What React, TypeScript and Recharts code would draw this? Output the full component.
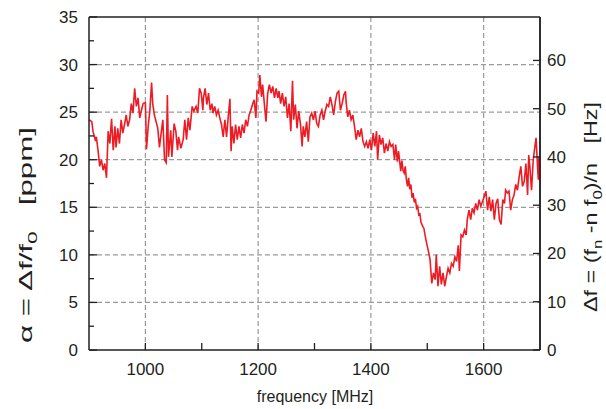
import React from "react";
import {
  LineChart,
  Line,
  XAxis,
  YAxis,
  ReferenceLine,
} from "recharts";

// alpha [ppm], as [frequency MHz, ppm]
const lowBand: [number, number][] = [
  [900, 24.2], [905, 24.0], [907, 23.0], [911, 22.1], [913, 22.4], [916, 21.0], [919, 19.3],
  [922, 20.0], [925, 18.9], [928, 19.6], [931, 18.1], [934, 23.0], [937, 21.7], [940, 24.3],
  [943, 21.0], [946, 23.5], [948, 21.3], [951, 23.3], [954, 21.7], [957, 24.2], [960, 22.8],
  [963, 23.7], [966, 24.7], [969, 23.5], [972, 24.2], [975, 25.9], [978, 24.9], [981, 27.5],
  [984, 25.6], [987, 26.5], [990, 24.4], [993, 25.2], [996, 25.9], [1000, 26.0], [1002, 21.1],
  [1005, 23.5], [1008, 25.2], [1011, 28.1], [1013, 25.9], [1016, 24.7], [1019, 24.0], [1022, 23.3],
  [1025, 21.3], [1028, 22.8], [1031, 24.2], [1034, 20.0], [1037, 19.7], [1039, 26.8], [1041, 20.3],
  [1045, 23.1], [1047, 20.3], [1051, 23.8], [1054, 23.0], [1057, 21.0], [1059, 22.4], [1063, 21.2],
  [1067, 22.1], [1070, 24.2], [1073, 22.1], [1076, 24.4], [1079, 23.1], [1083, 25.6], [1086, 25.1],
  [1090, 25.6], [1093, 24.9], [1096, 27.5], [1099, 27.0], [1102, 25.2],
];

const midBand: [number, number][] = [
  [1103, 26.5], [1106, 27.5], [1109, 25.8], [1112, 27.0], [1115, 25.2], [1118, 25.9], [1120, 24.9],
  [1123, 25.6], [1126, 24.7], [1129, 25.2], [1132, 24.4], [1135, 23.7], [1138, 22.4], [1141, 24.2],
  [1144, 22.4], [1147, 24.5], [1150, 26.4], [1152, 20.9], [1154, 23.5], [1157, 21.7], [1160, 23.7],
  [1163, 22.1], [1166, 23.5], [1169, 22.3], [1172, 23.7], [1175, 22.8], [1178, 24.2], [1181, 23.5],
  [1184, 24.7], [1187, 25.2], [1190, 25.8], [1193, 26.3], [1196, 24.4], [1198, 27.2], [1201, 27.0],
  [1203, 28.9], [1206, 26.6], [1208, 27.9], [1211, 25.9], [1214, 24.0], [1217, 27.0], [1220, 27.9],
  [1223, 27.0], [1226, 27.7], [1229, 26.5], [1232, 27.5], [1235, 26.5], [1237, 27.2], [1240, 25.9],
  [1243, 27.0], [1246, 25.6], [1249, 26.6], [1252, 24.4], [1255, 25.9], [1258, 23.0], [1261, 28.3],
  [1263, 24.2], [1266, 25.8], [1269, 23.3], [1272, 25.1], [1275, 23.8], [1278, 21.4], [1280, 23.5],
  [1283, 22.4], [1286, 24.0], [1289, 21.9], [1292, 24.5],
];

const dropBand: [number, number][] = [
  [1295, 24.9], [1298, 24.2], [1301, 25.1], [1304, 23.8], [1307, 23.5], [1310, 24.7], [1313, 25.2],
  [1316, 24.2], [1319, 25.1], [1322, 25.8], [1325, 25.6], [1328, 26.6], [1331, 25.8], [1334, 24.7],
  [1337, 26.1], [1340, 27.0], [1343, 27.2], [1346, 25.2], [1349, 25.9], [1352, 26.8], [1355, 27.2],
  [1356, 26.1], [1359, 24.5], [1362, 25.2], [1365, 24.2], [1368, 24.7], [1371, 23.5], [1374, 22.1],
  [1377, 23.1], [1380, 22.4], [1383, 23.3], [1386, 21.9], [1389, 21.4], [1392, 21.9], [1395, 21.2],
  [1398, 22.1], [1401, 21.0], [1404, 22.8], [1407, 21.4], [1410, 23.0], [1412, 20.0], [1415, 22.6],
  [1418, 21.6], [1421, 22.3], [1424, 20.7], [1427, 21.7], [1430, 20.9], [1433, 21.9], [1436, 21.4],
  [1439, 21.6], [1442, 20.0], [1444, 21.6], [1447, 19.8], [1449, 20.9], [1451, 19.9], [1453, 18.8],
  [1455, 19.9], [1457, 18.9], [1459, 18.6], [1461, 19.3], [1463, 17.9], [1465, 17.2], [1467, 18.1],
  [1469, 16.9], [1471, 17.4], [1473, 16.0], [1475, 16.5], [1477, 15.5], [1479, 15.9], [1481, 14.9],
  [1483, 15.1], [1485, 14.2], [1487, 14.3], [1489, 13.4],
];

const highBand: [number, number][] = [
  [1492, 13.0], [1494, 12.8], [1496, 12.1], [1499, 11.2], [1502, 10.4], [1505, 9.5], [1508, 7.0],
  [1511, 8.1], [1514, 7.4], [1516, 10.0], [1519, 6.7], [1522, 8.8], [1525, 6.9], [1528, 8.1],
  [1531, 6.7], [1534, 7.7], [1537, 8.6], [1540, 8.1], [1543, 9.1], [1546, 8.8], [1549, 9.8],
  [1552, 9.3], [1555, 11.0], [1557, 8.3], [1560, 12.1], [1563, 11.9], [1566, 12.6], [1569, 12.1],
  [1571, 13.7], [1574, 14.7], [1577, 13.7], [1580, 14.9], [1583, 14.4], [1586, 15.4], [1589, 14.7],
  [1592, 15.8], [1595, 15.1], [1598, 15.6], [1601, 16.1], [1604, 16.7], [1607, 14.7], [1610, 16.1],
  [1613, 14.6], [1616, 15.8], [1619, 13.7], [1622, 15.4], [1625, 15.9], [1628, 13.7], [1631, 13.2],
  [1634, 15.8], [1637, 15.4], [1639, 16.8], [1642, 16.5], [1645, 16.7], [1648, 14.7], [1651, 15.8],
  [1654, 16.3], [1657, 17.4], [1660, 16.8], [1663, 18.2], [1666, 19.3], [1669, 17.2], [1672, 17.7],
  [1675, 19.6], [1678, 16.3], [1680, 20.5], [1682, 19.3], [1685, 16.8], [1688, 20.0], [1691, 21.4],
  [1693, 22.3], [1695, 20.0], [1697, 17.9], [1698, 20.3], [1700, 17.8],
];

const xTicks = [1000, 1100, 1200, 1300, 1400, 1500, 1600];
const xGrid = [1000, 1200, 1400, 1600];
const leftTicks = [0, 2.5, 5, 7.5, 10, 12.5, 15, 17.5, 20, 22.5, 25, 27.5, 30, 32.5, 35];
const leftGrid = [5, 10, 15, 20, 25, 30];
const rightTicks = [0, 10, 20, 30, 40, 50, 60];

const data = [...lowBand, ...midBand, ...dropBand, ...highBand].map(([f, a]) => ({ f, a }));

const FONT = "'Liberation Sans', Arial, Helvetica, sans-serif";
const INK = "#231f20";

const LeftTick = (props: any) => {
  const { x, y, payload } = props;
  const v = payload.value;
  const major = v % 5 === 0;
  return (
    <g>
      <line x1={x} x2={x + (major ? 8 : 5)} y1={y} y2={y} stroke={INK} strokeWidth={1.3} />
      {major && (
        <text x={x - 11} y={y + 6} textAnchor="end" fontSize={17} fontFamily={FONT} fill={INK}>
          {v}
        </text>
      )}
    </g>
  );
};

const RightTick = (props: any) => {
  const { x, y, payload } = props;
  return (
    <g>
      <line x1={x} x2={x - 7} y1={y} y2={y} stroke={INK} strokeWidth={1.3} />
      <text x={x + 7} y={y + 6} textAnchor="start" fontSize={17} fontFamily={FONT} fill={INK}>
        {payload.value}
      </text>
    </g>
  );
};

const BottomTick = (props: any) => {
  const { x, y, payload } = props;
  const v = payload.value;
  return (
    <g>
      <line x1={x} x2={x} y1={y} y2={y - 7} stroke={INK} strokeWidth={1.3} />
      {v % 200 === 0 && (
        <text x={x} y={y + 25} textAnchor="middle" fontSize={17} fontFamily={FONT} fill={INK}>
          {v}
        </text>
      )}
    </g>
  );
};

const renderLeftLabel = () => (
  <text
    x={0}
    y={0}
    transform="translate(24,227) rotate(-90)"
    textAnchor="middle"
    fontSize={18}
    fontFamily={FONT}
    fill={INK}
    textLength={216}
    lengthAdjust="spacingAndGlyphs"
    style={{ whiteSpace: "pre" }}
  >
    α = Δf/f<tspan dy={5} fontSize={13}>0</tspan>
    <tspan dy={-5}>{"   [ppm]"}</tspan>
  </text>
);

const renderRightLabel = () => (
  <text
    x={0}
    y={0}
    transform="translate(589,199) rotate(-90)"
    textAnchor="middle"
    fontSize={18}
    fontFamily={FONT}
    fill={INK}
    textLength={210}
    lengthAdjust="spacingAndGlyphs"
    style={{ whiteSpace: "pre" }}
  >
    {"Δf = (f"}
    <tspan dy={5} fontSize={13}>n</tspan>
    <tspan dy={-5}>{" -n f"}</tspan>
    <tspan dy={5} fontSize={13}>0</tspan>
    <tspan dy={-5}>{")/n   [Hz]"}</tspan>
  </text>
);

const renderXLabel = () => (
  <text x={307} y={394} textAnchor="middle" fontSize={16} fontFamily={FONT} fill={INK}>
    frequency [MHz]
  </text>
);

export default function App() {
  return (
    <div style={{ position: "absolute", left: 8, top: 8, width: 598, height: 401 }}>
      <LineChart
        width={598}
        height={401}
        data={data}
        margin={{ top: 9, right: 0, bottom: 0, left: 0 }}
      >
        <XAxis
          dataKey="f"
          type="number"
          domain={[900, 1700]}
          ticks={xTicks}
          interval={0}
          height={59}
          tickSize={0}
          tickMargin={0}
          tickLine={false}
          tick={<BottomTick />}
          axisLine={{ stroke: INK, strokeWidth: 1.5 }}
          label={renderXLabel}
        />
        <YAxis
          yAxisId="left"
          orientation="left"
          type="number"
          domain={[0, 35]}
          ticks={leftTicks}
          interval={0}
          width={81}
          tickSize={0}
          tickMargin={0}
          tickLine={false}
          tick={<LeftTick />}
          axisLine={{ stroke: INK, strokeWidth: 1.5 }}
          label={renderLeftLabel}
        />
        <YAxis
          yAxisId="right"
          orientation="right"
          type="number"
          domain={[0, 69]}
          allowDataOverflow
          ticks={rightTicks}
          interval={0}
          width={66}
          tickSize={0}
          tickMargin={0}
          tickLine={false}
          tick={<RightTick />}
          axisLine={{ stroke: INK, strokeWidth: 1.5 }}
          label={renderRightLabel}
        />
        {leftGrid.map((v) => (
          <ReferenceLine
            key={"h" + v}
            yAxisId="left"
            y={v}
            stroke="#9a9a9a"
            strokeWidth={1.2}
            strokeDasharray="5 3"
          />
        ))}
        {xGrid.map((v) => (
          <ReferenceLine
            key={"v" + v}
            yAxisId="left"
            x={v}
            stroke="#9a9a9a"
            strokeWidth={1.2}
            strokeDasharray="5 3"
          />
        ))}
        <ReferenceLine yAxisId="left" y={35} stroke={INK} strokeWidth={1.5} />
        <ReferenceLine yAxisId="left" x={1700} stroke={INK} strokeWidth={1.5} />
        <Line
          yAxisId="left"
          type="linear"
          dataKey="a"
          stroke="#ed1c24"
          strokeWidth={1.6}
          dot={false}
          isAnimationActive={false}
        />
      </LineChart>
    </div>
  );
}
